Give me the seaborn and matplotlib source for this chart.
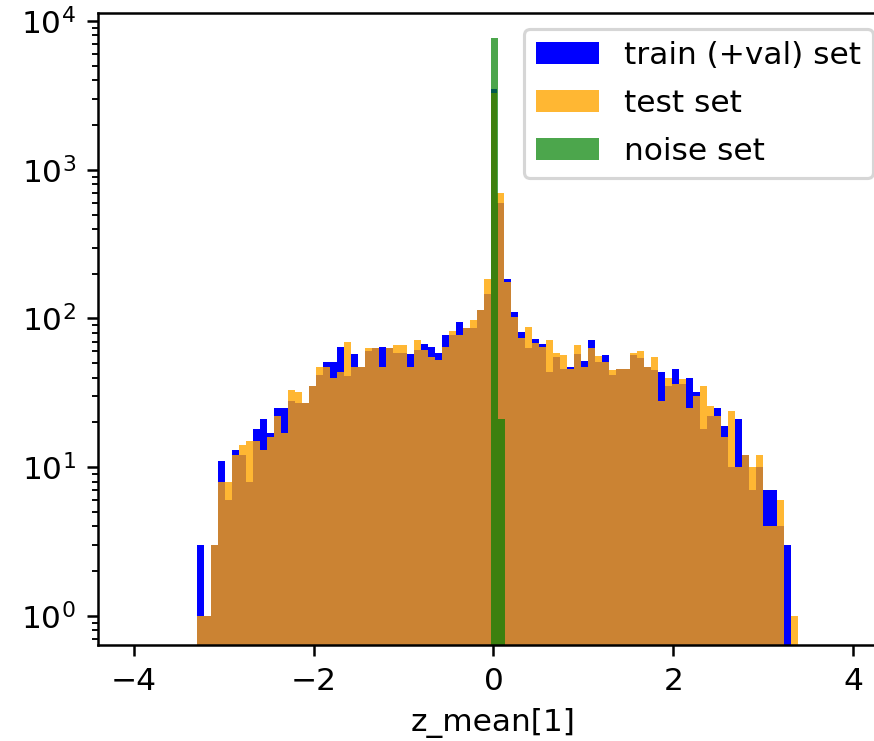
import numpy as np
import pandas as pd
import matplotlib
matplotlib.use("Agg")
import matplotlib.pyplot as plt
import seaborn as sns

# shared bin edges for train / test histograms
bin_edges = np.linspace(-3.30, 3.39, 87)

train_counts = [
    3, 1, 3, 11, 6, 13, 12, 8, 18, 21, 17, 25, 25, 28, 27, 27, 35, 42, 51, 51,
    64, 41, 58, 47, 60, 63, 64, 63, 59, 59, 58, 61, 67, 64, 59, 77, 77, 95, 86, 86,
    114, 145,
    3500,
    600, 184, 111, 81, 63, 73, 67, 44, 55, 46, 47, 58, 52, 72, 51, 57, 42, 46, 46, 57,
    54, 47, 45, 44, 35, 46, 36, 40, 32, 18, 22, 25, 19, 10, 21, 12, 7, 10, 7, 7,
    4, 3, 0,
]
test_counts = [
    1, 1, 3, 8, 8, 12, 14, 15, 15, 13, 16, 22, 17, 33, 32, 27, 35, 47, 47, 40,
    44, 70, 47, 47, 63, 63, 47, 63, 66, 66, 47, 72, 61, 55, 53, 64, 82, 77, 86, 98,
    114, 185,
    3300,
    700, 177, 102, 74, 88, 68, 64, 72, 59, 57, 46, 66, 47, 63, 56, 51, 45, 46, 46, 59,
    60, 47, 55, 28, 40, 36, 39, 25, 30, 35, 26, 22, 16, 24, 10, 12, 10, 12, 4, 4,
    6, 0, 1,
]

noise_edges = [-0.032, 0.046, 0.124]
noise_counts = [7700, 21]

series_labels = ["train (+val) set", "test set", "noise set"]
x_label = "z_mean[1]"

W, H, DPI = 874, 741, 225
fig = plt.figure(figsize=(W / DPI, H / DPI), dpi=DPI)
ax = fig.add_axes([97.9 / W, (741 - 645) / H, (889 - 97.9) / W, (645 - 13) / H])

centers = 0.5 * (bin_edges[:-1] + bin_edges[1:])
ncenters = 0.5 * (np.array(noise_edges[:-1]) + np.array(noise_edges[1:]))

train_df = pd.DataFrame({"x": centers, "w": train_counts})
test_df = pd.DataFrame({"x": centers, "w": test_counts})
noise_df = pd.DataFrame({"x": ncenters, "w": noise_counts})
edges_list = [float(e) for e in bin_edges]

sns.histplot(data=train_df, x="x", weights="w", bins=edges_list, color="blue",
             alpha=1.0, linewidth=0, ax=ax, label=series_labels[0])
sns.histplot(data=test_df, x="x", weights="w", bins=edges_list, color="orange",
             alpha=0.8, linewidth=0, ax=ax, label=series_labels[1])
sns.histplot(data=noise_df, x="x", weights="w", bins=list(noise_edges), color="green",
             alpha=0.7, linewidth=0, ax=ax, label=series_labels[2])

ax.set_yscale("log")
ax.set_ylim(0.638, 11320)
ax.set_xlim(-4.4, 4.4)
ax.set_xticks([-4, -2, 0, 2, 4])
ax.set_xlabel(x_label)
ax.set_ylabel("")
ax.legend(loc="upper right", labelspacing=0.6)

fig.savefig("out.png", dpi=DPI)
